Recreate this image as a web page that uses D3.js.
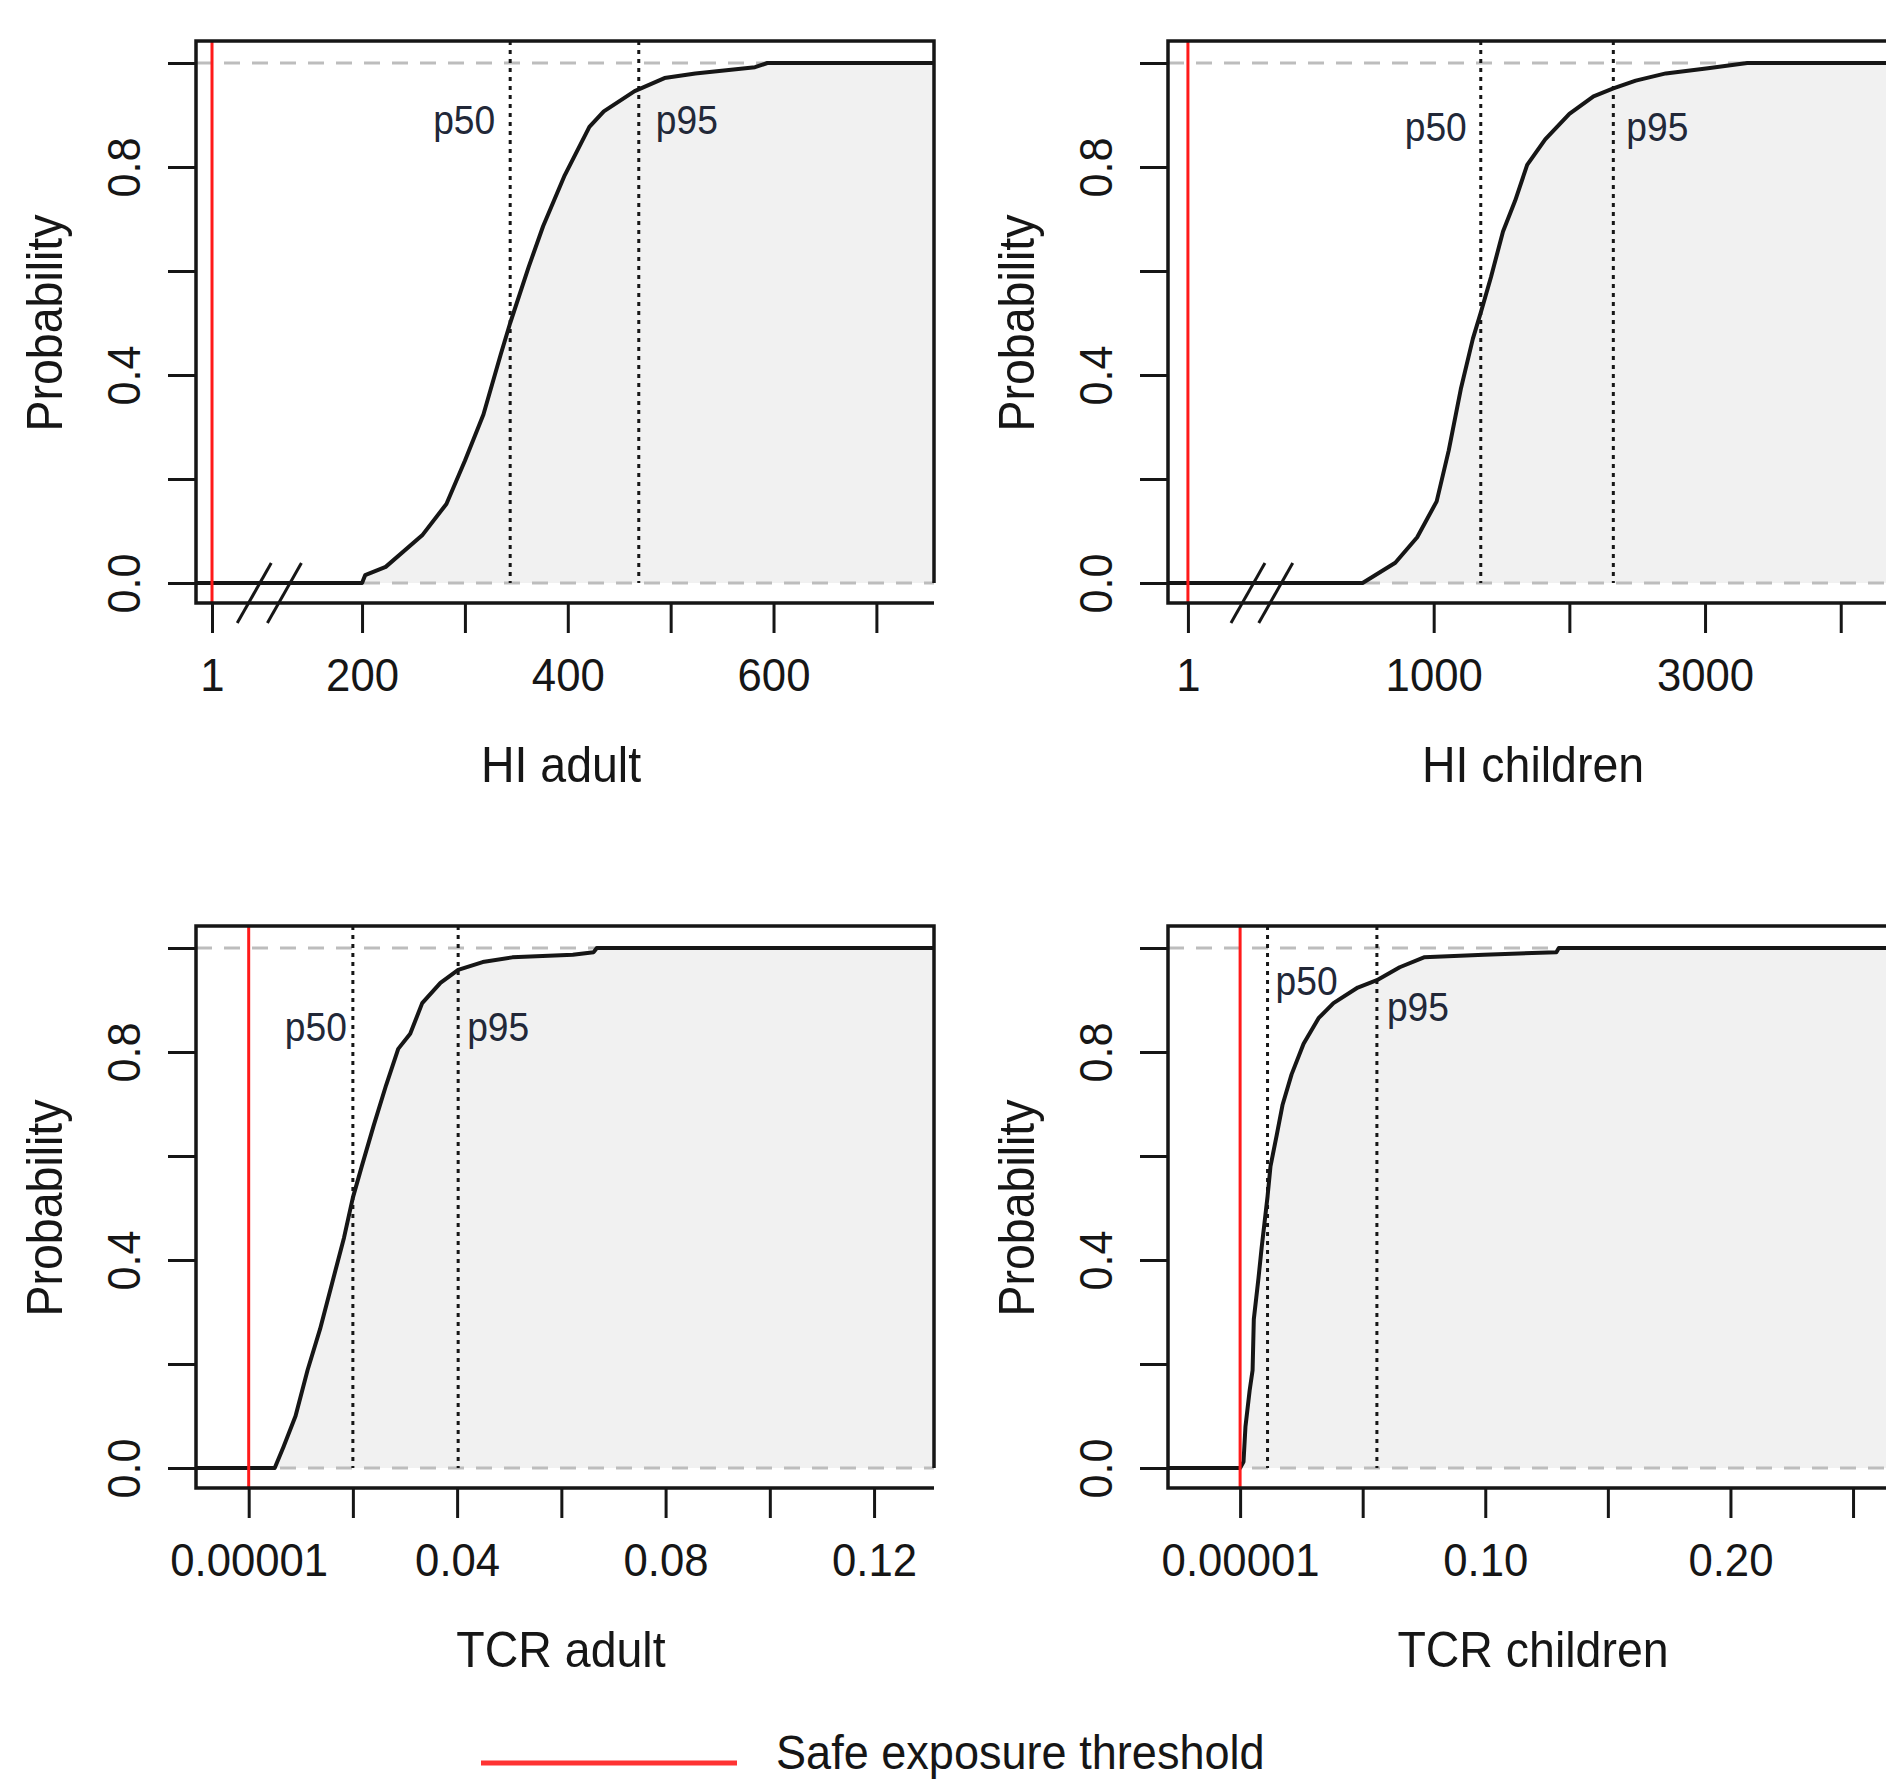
<!DOCTYPE html>
<html>
<head>
<meta charset="utf-8">
<script src="https://cdn.jsdelivr.net/npm/d3@7"></script>
<style>
  body { margin: 0; background: #fff; }
  svg text { font-family: "Liberation Sans", Arial, sans-serif; fill: #161616; }
</style>
</head>
<body>
<svg id="chart" width="1886" height="1779"></svg>
<script>
// ECDF points (value, cumulative probability)
const hiAdultX = [200, 203, 223, 259, 282, 300, 318, 335, 344, 362, 376, 397, 421, 435, 465, 494, 524, 582, 594];
const hiAdultP = [0, 0.015, 0.031, 0.093, 0.152, 0.235, 0.324, 0.441, 0.5, 0.608, 0.686, 0.784, 0.877, 0.907, 0.946, 0.971, 0.98, 0.992, 1.0];

const hiChildX = [711, 844, 933, 1022, 1111, 1200, 1289, 1347, 1422, 1511, 1600, 1689, 1822, 2000, 2178, 2324, 2489, 2711, 3022, 3311];
const hiChildP = [0, 0.039, 0.088, 0.157, 0.255, 0.373, 0.47, 0.52, 0.588, 0.676, 0.735, 0.804, 0.853, 0.902, 0.936, 0.951, 0.966, 0.98, 0.99, 1.0];

const tcrAdultX = [0.005, 0.0067, 0.009, 0.0113, 0.0137, 0.016, 0.0183, 0.02, 0.0217, 0.024, 0.0264, 0.0287, 0.031, 0.0333, 0.0368, 0.0402, 0.0449, 0.0506, 0.0622, 0.0662, 0.0668];
const tcrAdultP = [0, 0.041, 0.1, 0.188, 0.267, 0.355, 0.443, 0.52, 0.58, 0.659, 0.737, 0.806, 0.835, 0.894, 0.933, 0.958, 0.973, 0.982, 0.987, 0.992, 1.0];

const tcrChildX = [0.00001, 0.0014, 0.0022, 0.0039, 0.0051, 0.0056, 0.0075, 0.0088, 0.0112, 0.0124, 0.0149, 0.0173, 0.021, 0.0259, 0.032, 0.0381, 0.048, 0.0558, 0.0651, 0.075, 0.0995, 0.129, 0.130];
const tcrChildP = [0, 0.012, 0.08, 0.149, 0.188, 0.286, 0.365, 0.424, 0.522, 0.58, 0.639, 0.698, 0.757, 0.816, 0.865, 0.894, 0.924, 0.938, 0.963, 0.982, 0.987, 0.992, 1.0];

const titles = ["HI adult", "HI children", "TCR adult", "TCR children"];
const thresholds = [1, 1, 0.00001, 0.00001];
const p50 = [344, 1347, 0.02, 0.0112];
const p95 = [469, 2324, 0.0402, 0.0558];

const hiAdultTicks = [1, 200, 300, 400, 500, 600, 700];
const hiAdultLabels = ["1", "200", "", "400", "", "600", ""];
const hiChildTicks = [1, 1000, 2000, 3000, 4000];
const hiChildLabels = ["1", "1000", "", "3000", ""];
const tcrAdultTicks = [0.00001, 0.02, 0.04, 0.06, 0.08, 0.10, 0.12];
const tcrAdultLabels = ["0.00001", "", "0.04", "", "0.08", "", "0.12"];
const tcrChildTicks = [0.00001, 0.05, 0.10, 0.15, 0.20, 0.25];
const tcrChildLabels = ["0.00001", "", "0.10", "", "0.20", ""];

const probTicks = [0, 0.2, 0.4, 0.6, 0.8, 1.0];
const probLabels = ["0.0", "", "0.4", "", "0.8", ""];

const legendLabel = "Safe exposure threshold";

// layout of the four panels
const panels = [
  { xs: hiAdultX, ps: hiAdultP, ticks: hiAdultTicks, labels: hiAdultLabels,
    domain: [-20, 1, 200, 756], stops: [0, 0.0217, 0.225, 1], breaks: [57, 97],
    bx: 196, by: 41, pY: [0.892, 0.892], pDx: [-15, 17] },
  { xs: hiChildX, ps: hiChildP, ticks: hiChildTicks, labels: hiChildLabels,
    domain: [-80, 1, 1000, 4481], stops: [0, 0.027, 0.36, 1], breaks: [245, 358],
    bx: 1168, by: 41, pY: [0.878, 0.878], pDx: [-14, 13] },
  { xs: tcrAdultX, ps: tcrAdultP, ticks: tcrAdultTicks, labels: tcrAdultLabels,
    domain: [-0.0101, 0.1315], stops: [0, 1], breaks: [],
    bx: 196, by: 926, pY: [0.848, 0.848], pDx: [-6, 9] },
  { xs: tcrChildX, ps: tcrChildP, ticks: tcrChildTicks, labels: tcrChildLabels,
    domain: [-0.0294, 0.2716], stops: [0, 1], breaks: [],
    bx: 1168, by: 926, pY: [0.937, 0.888], pDx: [8, 10] }
];

const bw = 738, bh = 562;
const ink = "#161616";
const svg = d3.select("#chart");
svg.append("rect").attr("width", 1886).attr("height", 1779).attr("fill", "#fff");

panels.forEach((p, i) => {
  const x = d3.scaleLinear().domain(p.domain).range(p.stops.map(s => p.bx + s * bw));
  const y = d3.scaleLinear().domain([0, 1]).range([p.by + 542, p.by + 22]);
  const g = svg.append("g");
  const x0 = p.domain[0], x1 = p.domain[p.domain.length - 1];

  let pts = p.xs.map((v, k) => [v, p.ps[k]]);
  pts = [[x0, 0], ...pts, [x1, 1]];

  g.append("path")
    .attr("d", d3.area().x(d => x(d[0])).y0(y(0)).y1(d => y(d[1]))(pts))
    .attr("fill", "#f1f1f1");

  // reference lines at 0 and 1
  [0, 1].forEach(v => {
    g.append("line")
      .attr("x1", p.bx).attr("x2", p.bx + bw)
      .attr("y1", y(v)).attr("y2", y(v))
      .attr("stroke", "#bdbdbd").attr("stroke-width", 3)
      .attr("stroke-dasharray", "16,12");
  });

  // percentile lines
  [p50[i], p95[i]].forEach(v => {
    g.append("line")
      .attr("x1", x(v)).attr("x2", x(v))
      .attr("y1", p.by).attr("y2", y(0))
      .attr("stroke", ink).attr("stroke-width", 3)
      .attr("stroke-dasharray", "4,5");
  });

  g.append("path")
    .attr("d", d3.line().x(d => x(d[0])).y(d => y(d[1]))(pts))
    .attr("fill", "none").attr("stroke", ink).attr("stroke-width", 4)
    .attr("stroke-linejoin", "round");

  // safe exposure threshold
  g.append("line")
    .attr("x1", x(thresholds[i])).attr("x2", x(thresholds[i]))
    .attr("y1", p.by).attr("y2", p.by + bh)
    .attr("stroke", "#ff1a1a").attr("stroke-width", 3);

  // frame
  g.append("path")
    .attr("d", `M${p.bx + bw},${y(0)}V${p.by}H${p.bx}V${p.by + bh}H${p.bx + bw}`)
    .attr("fill", "none").attr("stroke", ink).attr("stroke-width", 3.5);

  // axis break marks
  p.breaks.forEach(v => {
    g.append("line")
      .attr("x1", x(v) - 17).attr("y1", p.by + bh + 20)
      .attr("x2", x(v) + 17).attr("y2", y(0) - 20)
      .attr("stroke", ink).attr("stroke-width", 3);
  });

  const xAxis = d3.axisBottom(x).tickValues(p.ticks).tickSize(30)
    .tickFormat((d, k) => p.labels[k]);
  g.append("g").attr("transform", `translate(0,${p.by + bh})`).call(xAxis)
    .call(s => s.select(".domain").remove())
    .call(s => s.selectAll("line").attr("stroke", ink).attr("stroke-width", 3))
    .call(s => s.selectAll("text").attr("y", null).attr("dy", null)
      .attr("transform", "translate(0,88) scale(0.93,1)").style("font-size", "47px"));

  const yAxis = d3.axisLeft(y).tickValues(probTicks).tickSize(28)
    .tickFormat((d, k) => probLabels[k]);
  g.append("g").attr("transform", `translate(${p.bx},0)`).call(yAxis)
    .call(s => s.select(".domain").remove())
    .call(s => s.selectAll("line").attr("stroke", ink).attr("stroke-width", 3))
    .call(s => s.selectAll("text").attr("x", null).attr("dy", "0.36em")
      .attr("text-anchor", "middle")
      .attr("transform", "translate(-73,0) rotate(-90) scale(0.92,1)").style("font-size", "47px"));

  g.append("text")
    .attr("transform", `translate(${p.bx - 152},${(y(0) + y(1)) / 2}) rotate(-90) scale(0.93,1)`)
    .attr("dy", "0.36em").attr("text-anchor", "middle")
    .style("font-size", "50px").text("Probability");

  g.append("text")
    .attr("transform", `translate(${p.bx + bw / 2 - 4},${p.by + bh + 179}) scale(0.93,1)`)
    .attr("text-anchor", "middle").style("font-size", "50px").text(titles[i]);

  [["p50", p50[i]], ["p95", p95[i]]].forEach(([lab, v], k) => {
    const dx = p.pDx[k];
    g.append("text")
      .attr("transform", `translate(${x(v) + dx},${y(p.pY[k])}) scale(0.93,1)`)
      .attr("dy", "0.36em").attr("text-anchor", dx < 0 ? "end" : "start")
      .style("font-size", "40px").style("fill", "#222838").text(lab);
  });
});

// legend
svg.append("line").attr("x1", 481).attr("x2", 737).attr("y1", 1763).attr("y2", 1763)
  .attr("stroke", "#f33").attr("stroke-width", 5);
svg.append("text").attr("transform", "translate(776,1769) scale(0.92,1)")
  .style("font-size", "49px").text(legendLabel);
</script>
</body>
</html>
